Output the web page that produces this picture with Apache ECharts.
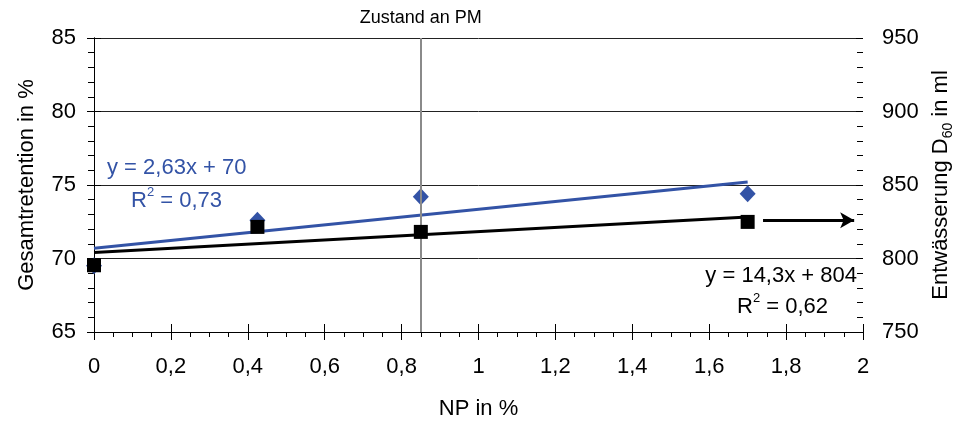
<!DOCTYPE html>
<html>
<head>
<meta charset="utf-8">
<script src="https://cdn.jsdelivr.net/npm/echarts@6/dist/echarts.min.js"></script>
<style>html,body{margin:0;padding:0;background:#fff}#c{width:967px;height:422px}</style>
</head>
<body>
<div id="c"></div>
<script>
// ---- data ----
const npValues = [0, 0.425, 0.85, 1.7];              // NP in %
const retention = [69.5, 72.6, 74.2, 74.4];           // Gesamtretention in % (left axis)
const drainage = [795.4, 821.5, 818.1, 824.9];        // Entwässerung D60 in ml (right axis)
const retentionTrend = [[0, 70.7], [1.7, 75.2]];      // y = 2,63x + 70
const drainageTrend = [[0, 804.1], [1.7, 828.3]];     // y = 14,3x + 804
const arrowFrom = [1.74, 826];
const arrowTo = [1.977, 826];
const pmLineX = 0.85;
const pmLabel = 'Zustand an PM';
const blueEq = ['y = 2,63x + 70', '0,73'];
const blackEq = ['y = 14,3x + 804', '0,62'];

const FONT = "'Liberation Sans', Arial, sans-serif";
const BLUE = '#3353A6';
const chart = echarts.init(document.getElementById('c'));
const fmtX = v => String(parseFloat(v.toFixed(2))).replace('.', ',');

chart.setOption({
  animation: false,
  textStyle: { fontFamily: FONT },
  grid: { left: 94, right: 104, top: 38, bottom: 90, containLabel: false, outerBoundsMode: 'none' },
  xAxis: [
    {
      type: 'value', min: 0, max: 2, interval: 0.2,
      name: 'NP in %', nameLocation: 'middle', nameGap: 66,
      nameTextStyle: { fontSize: 22, color: '#000', fontFamily: FONT },
      axisLine: { show: true, lineStyle: { color: '#000', width: 1 } },
      axisTick: { show: true, length: 8, lineStyle: { color: '#000' } },
      minorTick: { show: true, splitNumber: 4, length: 5, lineStyle: { color: '#000' } },
      axisLabel: { fontSize: 22, color: '#000', margin: 24, formatter: fmtX, fontFamily: FONT },
      splitLine: { show: false }
    },
    {
      type: 'value', min: 0, max: 2, interval: 0.2, position: 'bottom', offset: 0,
      axisLine: { show: false },
      axisTick: { show: true, inside: true, length: 8, lineStyle: { color: '#000' } },
      axisLabel: { show: false }, splitLine: { show: false }
    }
  ],
  yAxis: [
    {
      type: 'value', min: 65, max: 85, interval: 5, position: 'left',
      name: 'Gesamtretention in %', nameLocation: 'middle', nameGap: 56, nameRotate: 90,
      nameTextStyle: { fontSize: 22, color: '#000', fontFamily: FONT },
      axisLine: { show: true, lineStyle: { color: '#000' } },
      axisTick: { show: true, length: 7, lineStyle: { color: '#000' } },
      minorTick: { show: true, splitNumber: 5, length: 6, lineStyle: { color: '#000' } },
      axisLabel: { fontSize: 22, color: '#000', margin: 18, fontFamily: FONT },
      splitLine: { show: true, lineStyle: { color: '#222', width: 1 } }
    },
    {
      type: 'value', min: 750, max: 950, interval: 50, position: 'right', offset: 0,
      name: '{a|Entwässerung D}{s|60}{a| in ml}', nameLocation: 'middle', nameGap: 66, nameRotate: 90,
      nameTextStyle: {
        fontSize: 22, color: '#000', fontFamily: FONT,
        rich: {
          a: { fontSize: 22, fontFamily: FONT, color: '#000', lineHeight: 26, verticalAlign: 'top' },
          s: { fontSize: 14, fontFamily: FONT, color: '#000', lineHeight: 26, verticalAlign: 'bottom', padding: [10, 0, 0, 0] }
        }
      },
      axisLine: { show: true, lineStyle: { color: '#000' } },
      axisTick: { show: true, length: 7, lineStyle: { color: '#000' } },
      axisLabel: { fontSize: 22, color: '#000', margin: 19, fontFamily: FONT },
      splitLine: { show: false }
    },
    {
      type: 'value', min: 750, max: 950, interval: 50, position: 'right', offset: 0,
      axisLine: { show: false },
      axisTick: { show: true, inside: true, length: 7, lineStyle: { color: '#000' } },
      minorTick: { show: true, splitNumber: 5, length: 6, lineStyle: { color: '#000' } },
      axisLabel: { show: false }, splitLine: { show: false }
    }
  ],
  series: [
    {
      name: 'PM', type: 'line', data: [], xAxisIndex: 0, yAxisIndex: 0,
      markLine: {
        silent: true, symbol: ['none', 'none'],
        lineStyle: { color: '#8a8a8a', width: 2, type: 'solid' },
        label: { show: true, position: 'end', formatter: pmLabel, fontSize: 18, color: '#000', distance: 11, fontFamily: FONT },
        data: [{ xAxis: pmLineX }]
      }
    },
    {
      name: 'Trend Retention', type: 'line', yAxisIndex: 0, data: retentionTrend,
      symbol: 'none', lineStyle: { color: BLUE, width: 3 }, z: 3
    },
    {
      name: 'Trend Entwässerung', type: 'line', yAxisIndex: 1, data: drainageTrend,
      symbol: 'none', lineStyle: { color: '#000', width: 3 }, z: 3
    },
    {
      name: 'Gesamtretention', type: 'scatter', yAxisIndex: 0,
      data: npValues.map((x, i) => [x, retention[i]]),
      symbol: 'diamond', symbolSize: [16, 17], itemStyle: { color: BLUE, opacity: 1 }, z: 4
    },
    {
      name: 'Entwässerung', type: 'scatter', yAxisIndex: 1,
      data: npValues.map((x, i) => [x, drainage[i]]),
      symbol: 'rect', symbolSize: 14, itemStyle: { color: '#000', opacity: 1 }, z: 5,
      markLine: {
        silent: true, symbol: ['none', 'arrow'], symbolSize: [12, 14],
        lineStyle: { color: '#000', width: 3, type: 'solid' },
        label: { show: false },
        data: [[{ coord: arrowFrom }, { coord: arrowTo }]]
      }
    }
  ],
  graphic: [
    { type: 'text', left: 107, top: 157, style: { text: blueEq[0], fontSize: 22, fill: BLUE, fontFamily: FONT } },
    { type: 'text', left: 131, top: 186, style: {
        text: '{a|R}{p|2}{a| = ' + blueEq[1] + '}', fill: BLUE,
        rich: { a: { fontSize: 22, fill: BLUE, fontFamily: FONT, lineHeight: 26, verticalAlign: 'bottom' },
                p: { fontSize: 13, fill: BLUE, fontFamily: FONT, lineHeight: 26, verticalAlign: 'top' } } } },
    { type: 'text', right: 110, top: 265, style: { text: blackEq[0], fontSize: 22, fill: '#000', fontFamily: FONT } },
    { type: 'text', left: 737, top: 292, style: {
        text: '{a|R}{p|2}{a| = ' + blackEq[1] + '}', fill: '#000',
        rich: { a: { fontSize: 22, fill: '#000', fontFamily: FONT, lineHeight: 26, verticalAlign: 'bottom' },
                p: { fontSize: 13, fill: '#000', fontFamily: FONT, lineHeight: 26, verticalAlign: 'top' } } } }
  ]
});
</script>
</body>
</html>
